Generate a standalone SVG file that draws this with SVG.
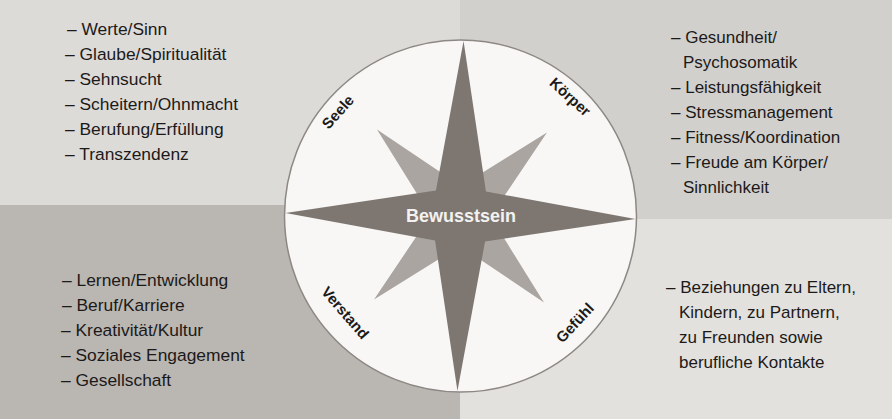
<svg xmlns="http://www.w3.org/2000/svg" width="892" height="419" viewBox="0 0 892 419">
<style>
  .item { font-family: "Liberation Sans", Arial, sans-serif; font-size: 17px; fill: #1c1a19; }
  .wide { font-size: 17.4px; }
  .lbl { font-family: "Liberation Sans", Arial, sans-serif; font-size: 15px; font-weight: bold; fill: #1c1a19; text-anchor: middle; }
  .center { font-family: "Liberation Sans", Arial, sans-serif; font-size: 18px; font-weight: bold; fill: #f4f2f0; text-anchor: middle; }
</style>
<g id="background">
  <rect x="0" y="0" width="460" height="205" fill="#dddbd8"/>
  <rect x="460" y="0" width="432" height="219" fill="#d2d0cd"/>
  <rect x="0" y="205" width="460" height="214" fill="#bab6b2"/>
  <rect x="460" y="219" width="432" height="200" fill="#e3e1de"/>
</g>
<g id="compass">
  <circle cx="460.5" cy="216" r="176" fill="#f8f7f5" stroke="#8d8884" stroke-width="1.5"/>
  <g transform="rotate(1 460.5 216)">
    <polygon id="diagonal-star" points="545.5,131 490.5,216 545.5,301 460.5,246 375.5,301 430.5,216 375.5,131 460.5,186" fill="#aaa5a0"/>
    <polygon id="main-star" points="460.5,41 485.5,191 635.5,216 485.5,241 460.5,391 435.5,241 285.5,216 435.5,191" fill="#7e7771"/>
  </g>
  <text class="center" x="461" y="222">Bewusstsein</text>
</g>
<g id="label-seele"><text class="lbl" transform="translate(338 112) rotate(-48)" y="5">Seele</text></g>
<g id="label-koerper"><text class="lbl" transform="translate(570 97) rotate(42)" y="5">Körper</text></g>
<g id="label-verstand"><text class="lbl" transform="translate(345 313) rotate(49)" y="5">Verstand</text></g>
<g id="label-gefuehl"><text class="lbl" transform="translate(575 323) rotate(-47)" y="5">Gefühl</text></g>
<g id="list-seele">
  <text class="item wide" x="67" y="35">– Werte/Sinn</text>
  <text class="item wide" x="65" y="60">– Glaube/Spiritualität</text>
  <text class="item wide" x="65" y="85">– Sehnsucht</text>
  <text class="item wide" x="65" y="110">–  Scheitern/Ohnmacht</text>
  <text class="item wide" x="65" y="135">– Berufung/Erfüllung</text>
  <text class="item wide" x="65" y="160">– Transzendenz</text>
</g>
<g id="list-koerper">
  <text class="item" x="671" y="43">– Gesundheit/</text>
  <text class="item" x="683" y="68">Psychosomatik</text>
  <text class="item" x="671" y="93">– Leistungsfähigkeit</text>
  <text class="item" x="671" y="118">– Stressmanagement</text>
  <text class="item" x="671" y="143">– Fitness/Koordination</text>
  <text class="item" x="671" y="168">– Freude am Körper/</text>
  <text class="item" x="683" y="193">Sinnlichkeit</text>
</g>
<g id="list-verstand">
  <text class="item wide" x="62" y="286">–  Lernen/Entwicklung</text>
  <text class="item wide" x="62" y="311">– Beruf/Karriere</text>
  <text class="item wide" x="61" y="336">– Kreativität/Kultur</text>
  <text class="item wide" x="61" y="361">– Soziales Engagement</text>
  <text class="item wide" x="61" y="386">– Gesellschaft</text>
</g>
<g id="list-gefuehl">
  <text class="item" x="666" y="293">– Beziehungen zu Eltern,</text>
  <text class="item" x="679" y="318">Kindern, zu Partnern,</text>
  <text class="item" x="679" y="343">zu Freunden sowie</text>
  <text class="item" x="679" y="368">berufliche Kontakte</text>
</g>
</svg>
